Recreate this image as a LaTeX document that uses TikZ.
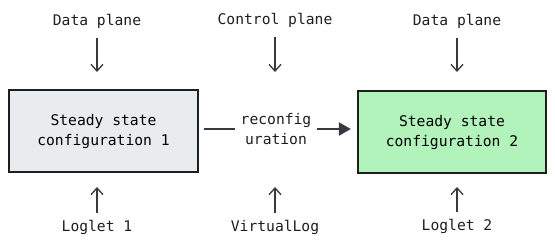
\documentclass[tikz,border=0pt]{standalone}
\usepackage{fontspec}
\setmonofont{DejaVu Sans Mono}
\usetikzlibrary{arrows.meta,positioning}
\definecolor{inkdark}{HTML}{1E1E1E}
\definecolor{arrowdark}{HTML}{343A40}
\definecolor{stategray}{HTML}{E9ECEF}
\definecolor{stategreen}{HTML}{B2F2BB}
\tikzset{
  statebox/.style={draw=inkdark,line width=1.3pt,font=\ttfamily\fontsize{11}{15}\selectfont,minimum width=141.5pt,minimum height=61.5pt,align=center},
  planelabel/.style={font=\ttfamily\fontsize{11}{15}\selectfont,text=inkdark,inner sep=1pt,align=center},
  feedarrow/.style={-{Straight Barb[length=5pt,width=9pt]},draw=arrowdark,line width=1pt},
  movearrow/.style={-{Triangle[length=9pt,width=10pt]},draw=arrowdark,line width=1.1pt}
}
\begin{document}
\begin{tikzpicture}[x=0.75pt,y=-0.75pt]
\useasboundingbox (0,0) rectangle (555,248);
\node[statebox,fill=stategray] (s1) at (103.5,131) {Steady state\\configuration 1};
\node[statebox,fill=stategreen] (s2) at (452,132) {Steady state\\configuration 2};
\node[planelabel] (rc) at (276,129) {reconfig\\uration};
\node[planelabel] (dp1) at (97,21) {Data plane};
\node[planelabel] (cp) at (275,20) {Control plane};
\node[planelabel] (dp2) at (457,21) {Data plane};
\node[planelabel] (lg1) at (97,227) {Loglet 1};
\node[planelabel] (vl) at (275,227) {VirtualLog};
\node[planelabel] (lg2) at (457,226) {Loglet 2};
% arrows into the boxes
\draw[feedarrow] (dp1.south) ++(0,8) -- (97,72);
\draw[feedarrow] (cp.south) ++(0,8) -- (275,72);
\draw[feedarrow] (dp2.south) ++(0,8) -- (457,72);
\draw[feedarrow] (lg1.north) ++(0,-5) -- (97,187);
\draw[feedarrow] (vl.north) ++(0,-5) -- (275,187);
\draw[feedarrow] (lg2.north) ++(0,-5) -- (457,187);
% reconfiguration
\draw[draw=arrowdark,line width=1pt] ([xshift=3.75pt]s1.east |- rc.west) -- ([xshift=-3pt]rc.west);
\draw[movearrow] ([xshift=3pt]rc.east) -- ([xshift=-4.5pt]s2.west |- rc.east);
\end{tikzpicture}
\end{document}
